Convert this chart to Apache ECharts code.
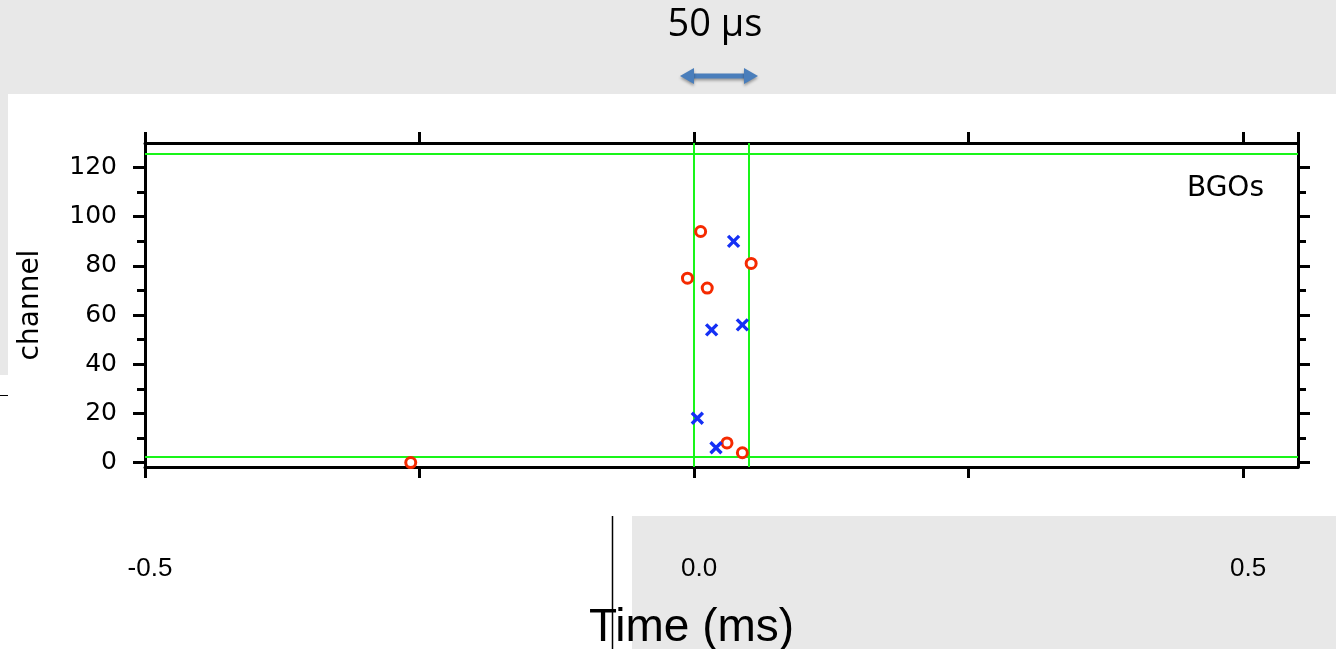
<!DOCTYPE html>
<html>
<head>
<meta charset="utf-8">
<script src="https://cdn.jsdelivr.net/npm/echarts@6/dist/echarts.min.js"></script>
<style>html,body{margin:0;padding:0;background:#fff;}#c{width:1336px;height:649px;}</style>
</head>
<body>
<div id="c"></div>
<script>
// ---- data ----
var redTime = [-0.258, -0.006, 0.006, 0.012, 0.030, 0.044, 0.052];
var redChannel = [0, 75, 94, 71, 8, 4, 81];
var blueTime = [0.003, 0.016, 0.020, 0.036, 0.044];
var blueChannel = [18, 54, 6, 90, 56];
var windowTimes = [0, 0.05];          // vertical green lines (50 µs window)
var channelLimits = [2.5, 125.5];     // horizontal green lines
var xLabelValues = [-0.5, 0.0, 0.5];
var yMajorTicks = [0, 20, 40, 60, 80, 100, 120];
var yMinorTicks = [10, 30, 50, 70, 90, 110];

function pairs(xs, ys) { return xs.map(function (x, i) { return [x, ys[i]]; }); }

var chart = echarts.init(document.getElementById('c'), null, {renderer: 'canvas'});
var black = '#000';
var axisLineStyle = {color: black, width: 3};
var markLines = windowTimes.map(function (v) { return {xAxis: v}; })
  .concat(channelLimits.map(function (v) { return {yAxis: v}; }));

function yAx(pos, ticks, len, showLine, labels) {
  return {
    type: 'value', position: pos, min: -1.8, max: 130,
    axisLine: {show: showLine, onZero: false, lineStyle: axisLineStyle},
    axisTick: {show: true, inside: false, length: len, customValues: ticks, lineStyle: {color: black, width: 3}},
    axisLabel: labels ? {show: true, customValues: ticks, margin: 28, color: black, fontSize: 25, fontFamily: 'DejaVu Sans'} : {show: false},
    splitLine: {show: false},
    name: labels ? 'channel' : '',
    nameLocation: 'middle', nameGap: 100,
    nameTextStyle: {color: black, fontSize: 28, fontFamily: 'DejaVu Sans'}
  };
}

var option = {
  backgroundColor: '#fff',
  animation: false,
  grid: {left: 145, right: 38, top: 143, bottom: 182, containLabel: false, outerBoundsMode: 'none'},
  xAxis: [{
    type: 'value', position: 'bottom', min: -0.5, max: 0.55, interval: 0.25,
    axisLine: {show: true, onZero: false, lineStyle: axisLineStyle},
    axisTick: {show: true, inside: false, length: 11, lineStyle: {color: black, width: 3}},
    axisLabel: {
      show: true, margin: 89, color: black, fontSize: 26, fontFamily: '"Liberation Sans Narrow", "Liberation Sans"',
      showMaxLabel: false, padding: [0, 0, 0, 10],
      formatter: function (v) {
        for (var i = 0; i < xLabelValues.length; i++) {
          if (Math.abs(v - xLabelValues[i]) < 1e-9) return xLabelValues[i].toFixed(1);
        }
        return '';
      }
    },
    splitLine: {show: false},
    name: 'Time (ms)', nameLocation: 'middle', nameGap: 138,
    nameTextStyle: {color: black, fontSize: 46, fontFamily: 'Liberation Sans', padding: [0, 60, 0, 0]}
  }, {
    type: 'value', position: 'top', min: -0.5, max: 0.55, interval: 0.25,
    axisLine: {show: true, onZero: false, lineStyle: axisLineStyle},
    axisTick: {show: true, inside: false, length: 11, lineStyle: {color: black, width: 3}},
    axisLabel: {show: false},
    splitLine: {show: false}
  }],
  yAxis: [
    yAx('left', yMajorTicks, 12, true, true),
    yAx('left', yMinorTicks, 8, false, false),
    yAx('right', yMajorTicks, 12, true, false),
    yAx('right', yMinorTicks, 8, false, false)
  ],
  series: [{
    type: 'scatter', name: 'BGO hits (circle)',
    data: pairs(redTime, redChannel),
    symbol: 'circle', symbolSize: 10,
    itemStyle: {color: '#fff', borderColor: '#f52a00', borderWidth: 3, opacity: 1},
    z: 5,
    markLine: {
      silent: true, symbol: ['none', 'none'], label: {show: false},
      lineStyle: {color: '#19f519', width: 2, type: 'solid'},
      data: markLines
    }
  }, {
    type: 'scatter', name: 'BGO hits (cross)',
    data: pairs(blueTime, blueChannel),
    symbol: 'path://M0,0L10,10M10,0L0,10', symbolSize: 11,
    itemStyle: {color: 'none', borderColor: '#1530f5', borderWidth: 3.4, opacity: 1},
    z: 5
  }],
  graphic: [
    {type: 'rect', z: -10, silent: true, shape: {x: 0, y: 0, width: 1336, height: 94}, style: {fill: '#e8e8e8'}},
    {type: 'rect', z: -10, silent: true, shape: {x: 0, y: 94, width: 8, height: 281}, style: {fill: '#e8e8e8'}},
    {type: 'rect', z: -10, silent: true, shape: {x: 632, y: 516, width: 704, height: 133}, style: {fill: '#e8e8e8'}},
    {type: 'line', z: 50, silent: true, shape: {x1: 612.5, y1: 516, x2: 612.5, y2: 649}, style: {stroke: '#000', lineWidth: 1.5}},
    {type: 'line', z: 50, silent: true, shape: {x1: 0, y1: 395.5, x2: 8, y2: 395.5}, style: {stroke: '#000', lineWidth: 1}},
    {type: 'text', z: 50, silent: true, x: 715, y: 25, style: {text: '50 µs', fill: '#000', font: '38px "Open Sans"', textAlign: 'center', textVerticalAlign: 'middle'}},
    {type: 'line', z: 50, silent: true, shape: {x1: 690, y1: 76, x2: 748, y2: 76}, style: {stroke: '#4a7ebb', lineWidth: 5, shadowBlur: 3, shadowColor: 'rgba(0,0,0,0.35)', shadowOffsetY: 2}},
    {type: 'polygon', z: 50, silent: true, shape: {points: [[680, 76], [694, 68], [694, 84]]}, style: {fill: '#4a7ebb', shadowBlur: 3, shadowColor: 'rgba(0,0,0,0.35)', shadowOffsetY: 2}},
    {type: 'polygon', z: 50, silent: true, shape: {points: [[758, 76], [744, 68], [744, 84]]}, style: {fill: '#4a7ebb', shadowBlur: 3, shadowColor: 'rgba(0,0,0,0.35)', shadowOffsetY: 2}},
    {type: 'text', z: 50, silent: true, x: 1264, y: 189, style: {text: 'BGOs', fill: '#000', font: '28px "DejaVu Sans"', textAlign: 'right', textVerticalAlign: 'middle'}}
  ]
};
chart.setOption(option);
</script>
</body>
</html>
